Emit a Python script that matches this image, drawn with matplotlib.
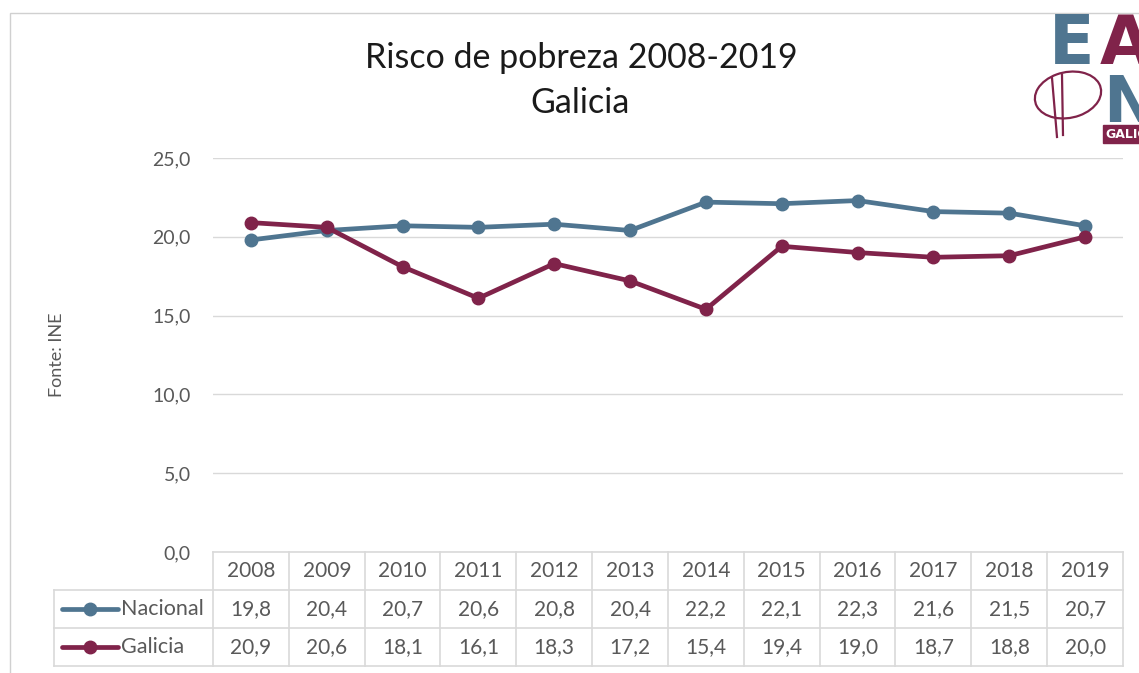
# -*- coding: utf-8 -*-
# Risco de pobreza 2008-2019, Nacional vs Galicia (grafico tipo Excel con taboa de datos)
import matplotlib
matplotlib.use('Agg')
from matplotlib import pyplot as plt
from matplotlib.patches import Rectangle, Ellipse
import matplotlib.transforms as mtransforms

anyos = ['2008', '2009', '2010', '2011', '2012', '2013',
         '2014', '2015', '2016', '2017', '2018', '2019']
nacional = [19.8, 20.4, 20.7, 20.6, 20.8, 20.4, 22.2, 22.1, 22.3, 21.6, 21.5, 20.7]
galicia = [20.9, 20.6, 18.1, 16.1, 18.3, 17.2, 15.4, 19.4, 19.0, 18.7, 18.8, 20.0]
series = ['Nacional', 'Galicia']
yticks = [0, 5, 10, 15, 20, 25]

AZUL = '#4F7590'
GRANATE = '#80234A'
GRIS_TXT = '#595959'
GRIS_LIN = '#D9D9D9'

plt.rcParams['font.family'] = ['Lato', 'DejaVu Sans']

W, H = 1139, 673
fig = plt.figure(figsize=(W / 100, H / 100), dpi=100)

def fx(px):
    return px / W

def fy(py):
    return 1 - py / H

def coma(v):
    return ('%.1f' % v).replace('.', ',')

# marco exterior
fig.patches.append(Rectangle((fx(10), fy(700)), fx(1200), fy(13) - fy(700),
                             transform=fig.transFigure, fill=False,
                             edgecolor='#D0D0D0', linewidth=1))

ax = fig.add_axes([fx(213), fy(552), fx(1123) - fx(213), fy(158) - fy(552)])
x = list(range(len(anyos)))
ax.plot(x, nacional, color=AZUL, linewidth=3.4, marker='o', markersize=9,
        solid_capstyle='round', zorder=3)
ax.plot(x, galicia, color=GRANATE, linewidth=3.4, marker='o', markersize=9,
        solid_capstyle='round', zorder=3)

ax.set_xlim(-0.5, len(anyos) - 0.5)
ax.set_ylim(0, 25)
ax.set_yticks(yticks)
ax.set_yticklabels([coma(v) for v in yticks], fontsize=14, color=GRIS_TXT)
ax.tick_params(axis='y', length=0, pad=16)
ax.set_xticks([])
ax.grid(axis='y', color=GRIS_LIN, linewidth=1)
ax.set_axisbelow(True)
for s in ['top', 'right', 'left', 'bottom']:
    ax.spines[s].set_visible(False)

# taboa de datos baixo o grafico
tr = mtransforms.blended_transform_factory(ax.transData, ax.transAxes)
alto = 38 / 394.0
xleg = (54 - 213) / 910.0 * len(anyos) - 0.5
xmin, xmax = -0.5, len(anyos) - 0.5
kw = dict(transform=tr, color=GRIS_LIN, linewidth=1.2, clip_on=False)
ax.plot([xmin, xmax], [0, 0], **kw)
for k in range(1, 4):
    ax.plot([xleg, xmax], [-k * alto, -k * alto], **kw)
for i in range(len(anyos) + 1):
    ax.plot([i - 0.5, i - 0.5], [0, -3 * alto], **kw)
ax.plot([xleg, xleg], [-alto, -3 * alto], **kw)

for i, a in enumerate(anyos):
    ax.text(i, -0.5 * alto, a, transform=tr, ha='center', va='center',
            fontsize=15, color=GRIS_TXT)
    ax.text(i, -1.5 * alto, coma(nacional[i]),
            transform=tr, ha='center', va='center', fontsize=15, color=GRIS_TXT)
    ax.text(i, -2.5 * alto, coma(galicia[i]),
            transform=tr, ha='center', va='center', fontsize=15, color=GRIS_TXT)

# claves da lenda dentro da taboa
for k, (nome, cor) in enumerate(zip(series, [AZUL, GRANATE])):
    yk = -(1.5 + k) * alto
    x0 = xleg + 0.1
    x1 = x0 + 0.75
    ax.plot([x0, x1], [yk, yk], transform=tr, color=cor, linewidth=3.4,
            solid_capstyle='round', clip_on=False)
    ax.plot([(x0 + x1) / 2], [yk], transform=tr, color=cor, marker='o',
            markersize=9, clip_on=False)
    ax.text(x1 + 0.03, yk, nome, transform=tr, ha='left', va='center',
            fontsize=15.5, color=GRIS_TXT)

# titulo e fonte
fig.text(fx(581), fy(58), 'Risco de pobreza 2008-2019', ha='center', va='center',
         fontsize=24.5, color='#1A1A1A')
fig.text(fx(580), fy(103), 'Galicia', ha='center', va='center',
         fontsize=24.5, color='#1A1A1A')
fig.text(fx(57), fy(355), 'Fonte: INE', rotation=90, ha='center', va='center',
         fontsize=13, color=GRIS_TXT)

# logotipo (aproximado, cortado polo bordo)
fig.text(fx(1049), fy(64), 'E', ha='left', va='baseline', fontsize=48,
         fontweight='heavy', color=AZUL, family='DejaVu Sans')
fig.text(fx(1100), fy(64), 'A', ha='left', va='baseline', fontsize=48,
         fontweight='heavy', color=GRANATE, family='DejaVu Sans')
fig.text(fx(1103), fy(122), 'N', ha='left', va='baseline', fontsize=46,
         fontweight='heavy', color=AZUL, family='DejaVu Sans')
# trazo a man da "P"
fig.patches.append(Ellipse((fx(1068), fy(95)), fx(64), fy(72) - fy(120), angle=-20,
                           transform=fig.transFigure, fill=False,
                           edgecolor=GRANATE, linewidth=1.6))
fig.lines.append(plt.Line2D([fx(1052), fx(1057)], [fy(78), fy(137)],
                            transform=fig.transFigure, color=GRANATE, linewidth=1.6))
fig.lines.append(plt.Line2D([fx(1062), fx(1063)], [fy(75), fy(135)],
                            transform=fig.transFigure, color=GRANATE, linewidth=1.6))
fig.patches.append(Rectangle((fx(1103), fy(143)), fx(60), fy(125) - fy(143),
                             transform=fig.transFigure, color=GRANATE))
fig.text(fx(1105), fy(134), 'GALICIA', ha='left', va='center', fontsize=9,
         fontweight='bold', color='white', family='DejaVu Sans Condensed')

fig.savefig('out.png', dpi=100)
